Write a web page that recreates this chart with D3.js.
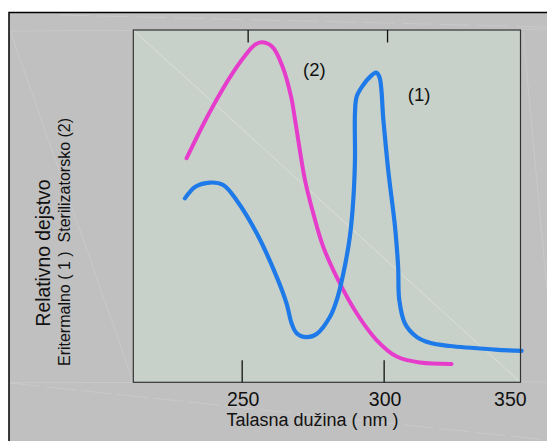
<!DOCTYPE html>
<html><head><meta charset="utf-8">
<script src="https://cdn.jsdelivr.net/npm/d3@7"></script>
<style>
html,body{margin:0;padding:0;background:#fff;}
svg{display:block;}
text{font-family:"Liberation Sans",Arial,Helvetica,sans-serif;fill:#111;white-space:pre;}
</style></head>
<body>
<svg id="chart" width="547" height="441"></svg>
<script>
// ---- data (wavelength in nm, relative effect in %) ----
const curve1Wavelength = [230.0,233.7,238.8,243.5,248.2,255.3,262.3,265.8,267.6,269.4,272.9,276.4,281.1,283.5,285.8,288.1,289.3,289.9,289.9,290.5,292.8,295.2,297.3,298.5,299.9,301.6,304.0,305.1,305.5,307.5,311.6,316.3,323.3,339.3,348.6];
const curve1Value      = [52.2,55.5,56.7,56.0,51.7,42.3,30.0,22.4,16.7,13.9,12.8,13.7,18.6,23.4,30.9,41.3,51.7,63.1,76.4,81.1,84.4,86.7,87.9,86.7,74.5,60.3,44.2,32.8,23.4,16.7,12.9,11.2,10.3,9.3,8.9];
const curve2Wavelength = [230.6,236.1,241.1,245.95,250.9,254.5,257.0,260.7,264.4,267.4,268.8,272.3,275.2,278.7,284.0,290.5,297.5,304.6,312.8,323.9];
const curve2Value      = [63.6,72.6,80.1,86.7,92.4,95.7,96.5,95.3,89.6,81.1,74.5,57.4,48.0,38.5,29.0,19.6,12.0,7.3,5.6,5.2];
const tickValues = [250, 300, 350];
const tickLabels = ["250", "300", "350"];
const topTickValues = [252.1, 301.2];
const curveLabels = [{text:"(2)", nm:271.6, v:87.0}, {text:"(1)", nm:308.5, v:79.8}];
const xTitle = "Talasna dužina ( nm )";
const yTitle1 = "Relativno dejstvo";
const yTitle2 = "Eritermalno ( 1 )  Sterilizatorsko (2)";

// ---- layout ----
const svg = d3.select("#chart");
const L = 133.3, R = 520.5, T = 30, B = 382.3;
const x = d3.scaleLinear().domain([211.83, 348.2]).range([L, R]);
const y = d3.scaleLinear().domain([0, 100]).range([B, T]);

// outer frame
svg.append("rect").attr("x", 9).attr("y", 12.5).attr("width", 560).attr("height", 460)
  .attr("fill", "#c0c0c0").attr("stroke", "#000").attr("stroke-width", 1.5);

// faint artefact lines in the background
const faint = svg.append("g").attr("stroke", "#dadada").attr("stroke-width", 0.8).attr("fill", "none").attr("opacity", 0.45);
faint.append("line").attr("x1", 10).attr("y1", 31).attr("x2", 547).attr("y2", 29);
faint.append("line").attr("x1", 60).attr("y1", 15).attr("x2", 547).attr("y2", 27).attr("stroke-dasharray", "30 8");
faint.append("line").attr("x1", 10.5).attr("y1", 31.7).attr("x2", 132.5).attr("y2", 380);
faint.append("line").attr("x1", 10).attr("y1", 382.7).attr("x2", 547).attr("y2", 382);
faint.append("line").attr("x1", 10).attr("y1", 383).attr("x2", 547).attr("y2", 440).attr("stroke-dasharray", "30 6");
faint.append("line").attr("x1", 523).attr("y1", 31.7).attr("x2", 547).attr("y2", 290);

// plot area
svg.append("rect").attr("x", L).attr("y", T).attr("width", R - L).attr("height", B - T)
  .attr("fill", "#c8d1c9");
svg.append("line").attr("x1", L).attr("y1", T).attr("x2", R).attr("y2", B)
  .attr("stroke", "#dfe6df").attr("stroke-width", 0.7);

// curves
const line = d3.line().x(d => x(d[0])).y(d => y(d[1])).curve(d3.curveCatmullRom.alpha(0.5));
const c2 = curve2Wavelength.map((w, i) => [w, curve2Value[i]]);
const c1 = curve1Wavelength.map((w, i) => [w, curve1Value[i]]);
svg.append("path").attr("d", line(c2)).attr("fill", "none").attr("stroke", "#e63ccc")
  .attr("stroke-width", 4).attr("stroke-linecap", "round").attr("stroke-linejoin", "round");
svg.append("path").attr("d", line(c1)).attr("fill", "none").attr("stroke", "#1e7ae8")
  .attr("stroke-width", 4.2).attr("stroke-linecap", "round").attr("stroke-linejoin", "round");

// plot border
svg.append("rect").attr("x", L).attr("y", T).attr("width", R - L).attr("height", B - T)
  .attr("fill", "none").attr("stroke", "#333").attr("stroke-width", 1.2);

// bottom ticks (inside)
const axB = svg.append("g").attr("transform", `translate(0,${B})`)
  .call(d3.axisBottom(x).tickValues(tickValues.filter(v => v < 348)).tickSizeInner(-22).tickSizeOuter(0).tickFormat(""));
axB.select(".domain").remove();
axB.selectAll("line").attr("stroke", "#111").attr("stroke-width", 1.3);
// top ticks (inside)
const axT = svg.append("g").attr("transform", `translate(0,${T})`)
  .call(d3.axisTop(x).tickValues(topTickValues).tickSizeInner(-12.5).tickSizeOuter(0).tickFormat(""));
axT.select(".domain").remove();
axT.selectAll("line").attr("stroke", "#111").attr("stroke-width", 1.3);

// tick labels
svg.selectAll("text.tick-label").data(tickValues).enter().append("text")
  .attr("class", "tick-label")
  .attr("x", (d, i) => x(d) + (i === tickValues.length - 1 ? 1 : 1.5))
  .attr("y", 406)
  .attr("text-anchor", (d, i) => i === tickValues.length - 1 ? "end" : "middle")
  .attr("font-size", 19.5)
  .text((d, i) => tickLabels[i]);

// axis titles
svg.append("text").attr("x", 226.5).attr("y", 426).attr("font-size", 18).text(xTitle);
svg.append("text").attr("transform", "translate(49.5,253) rotate(-90)")
  .attr("text-anchor", "middle").attr("font-size", 19.3).text(yTitle1);
svg.append("text").attr("transform", "translate(70.3,242) rotate(-90)")
  .attr("text-anchor", "middle").attr("font-size", 16).text(yTitle2);

// curve labels
svg.selectAll("text.curve-label").data(curveLabels).enter().append("text")
  .attr("class", "curve-label")
  .attr("x", d => x(d.nm)).attr("y", d => y(d.v))
  .attr("font-size", 18.5).text(d => d.text);
</script>
</body></html>
